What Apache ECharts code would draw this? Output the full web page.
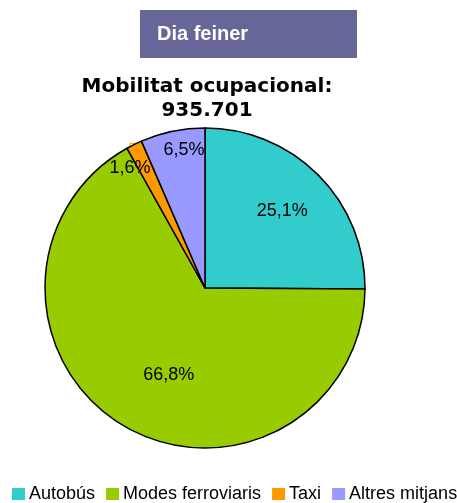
<!DOCTYPE html>
<html><head><meta charset="utf-8">
<script src="https://cdn.jsdelivr.net/npm/echarts@6/dist/echarts.min.js"></script>
<style>html,body{margin:0;padding:0;background:#fff}#c{width:457px;height:503px}</style>
</head><body><div id="c"></div>
<script>
const categories = ['Autobús', 'Modes ferroviaris', 'Taxi', 'Altres mitjans'];
const values = [25.1, 66.8, 1.6, 6.5];
const colors = ['#33CCCC', '#99CC00', '#FF9900', '#9999FF'];
// label placement style: fraction of radius and angular shift (degrees)
const labelRadiusFactor = [0.68, 0.59, 0.885, 0.87];
const labelAngleShift = [0, -8, -5.7, 3];

const cx = 205, cy = 288, R = 160;
const total = values.reduce((a, b) => a + b, 0);
const midAngles = [];
let acc = 0;
values.forEach(v => { midAngles.push((acc + v / 2) / total * 2 * Math.PI); acc += v; });

const chart = echarts.init(document.getElementById('c'));
chart.setOption({
  animation: false,
  graphic: [
    { type: 'rect', shape: { x: 140, y: 10, width: 217, height: 48 }, style: { fill: '#666699' } },
    { type: 'text', left: 157, top: 24, style: { text: 'Dia feiner', fill: '#fff', font: 'bold 20px "Liberation Sans", Arial, sans-serif' } }
  ],
  title: {
    text: 'Mobilitat ocupacional:\n935.701',
    left: 202, textAlign: 'center', top: 70,
    textStyle: { fontFamily: '"DejaVu Sans", Verdana, sans-serif', fontWeight: 'bold', fontSize: 20, lineHeight: 24, color: '#000' }
  },
  legend: {
    top: 485, left: 12, width: 600, padding: 0,
    itemWidth: 13, itemHeight: 12, itemGap: 11,
    icon: 'rect',
    itemStyle: { borderWidth: 0 },
    textStyle: { fontFamily: '"Liberation Sans", Arial, sans-serif', fontSize: 18, color: '#000', padding: [0, 0, 0, -1] },
    data: categories
  },
  series: [{
    type: 'pie',
    center: [cx, cy], radius: R,
    startAngle: 90, clockwise: true,
    label: {
      show: true, position: 'inside',
      formatter: p => p.value.toFixed(1).replace('.', ',') + '%',
      fontFamily: '"Liberation Sans", Arial, sans-serif', fontSize: 18, color: '#000'
    },
    labelLayout: p => {
      const i = p.dataIndex, a = midAngles[i] + labelAngleShift[i] * Math.PI / 180, k = labelRadiusFactor[i];
      return { x: cx + k * R * Math.sin(a), y: cy - k * R * Math.cos(a), align: 'center', verticalAlign: 'middle' };
    },
    itemStyle: { borderColor: '#000', borderWidth: 1.5 },
    emphasis: { disabled: true },
    data: categories.map((n, i) => ({ name: n, value: values[i], itemStyle: { color: colors[i] } }))
  }]
});
</script></body></html>
